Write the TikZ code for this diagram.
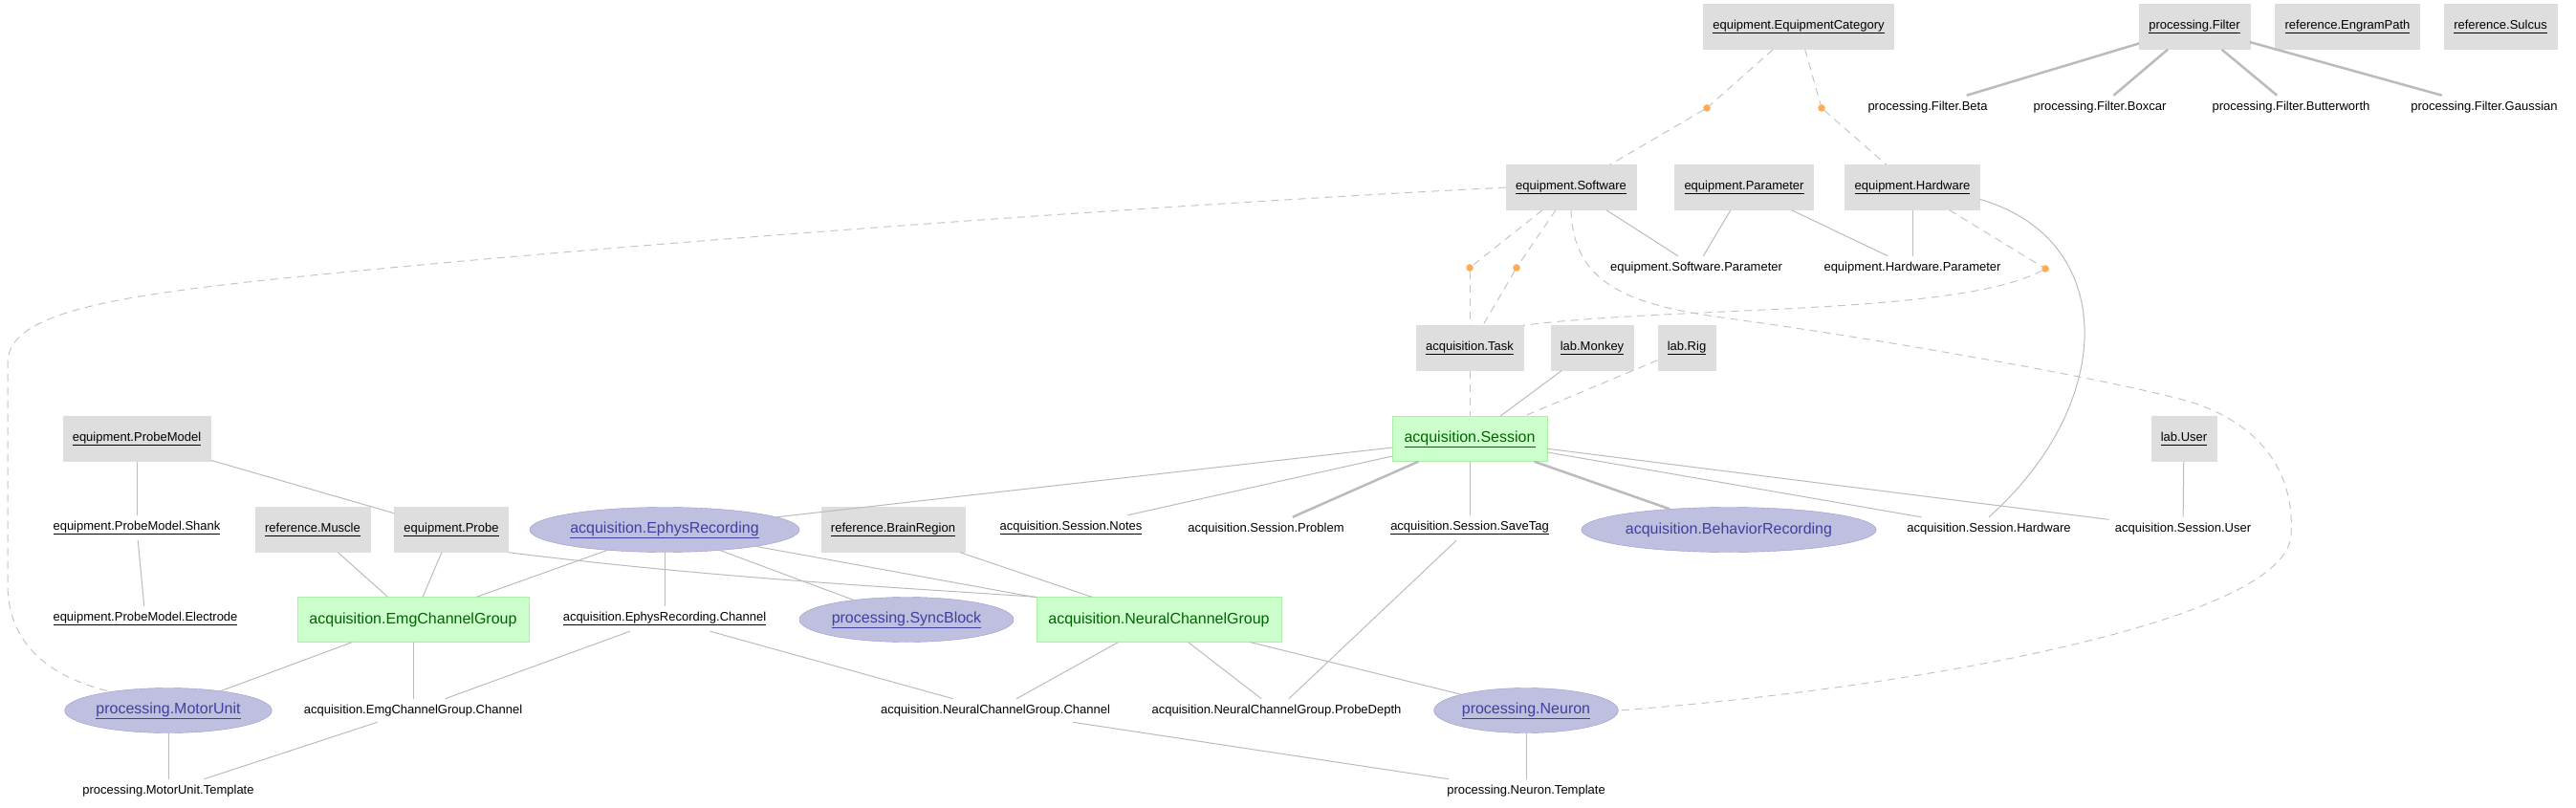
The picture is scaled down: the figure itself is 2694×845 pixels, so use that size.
\documentclass[tikz,border=0pt]{standalone}
\usepackage{fontspec}
\setmainfont{Liberation Sans}
\usetikzlibrary{shapes.geometric}
\definecolor{lkfill}{HTML}{DEDEDE}
\definecolor{mnfill}{HTML}{CCFFCC}
\definecolor{mndraw}{HTML}{A8F0A8}
\definecolor{mntext}{HTML}{006400}
\definecolor{imfill}{HTML}{BFBFDF}
\definecolor{imdraw}{HTML}{9999CC}
\definecolor{imtext}{HTML}{4040A0}
\definecolor{edgegray}{HTML}{BBBBBB}
\definecolor{dashgray}{HTML}{C4C4C4}
\definecolor{dotfill}{HTML}{FFAA55}
\newcommand{\pk}[1]{\underline{#1\vphantom{g}}}
\begin{document}
\begin{tikzpicture}[x=1pt,y=-1pt,
	lookup/.style={draw=lkfill,fill=lkfill,rectangle,minimum height=47pt,inner xsep=10pt,font=\fontsize{13}{15}\selectfont},
	manual/.style={draw=mndraw,fill=mnfill,rectangle,minimum height=47pt,inner xsep=12.5pt,text=mntext,font=\fontsize{16}{19}\selectfont},
	imported/.style={draw=imdraw,fill=imfill,ellipse,minimum height=47pt,inner xsep=1pt,text=imtext,font=\fontsize{16}{19}\selectfont},
	part/.style={inner sep=6pt,font=\fontsize{13}{15}\selectfont},
	joint/.style={circle,draw=dotfill,fill=dotfill,minimum size=7pt,inner sep=0pt},
	fk/.style={draw=edgegray,line width=1pt},
	fkbold/.style={draw=edgegray,line width=2.5pt},
	fkdash/.style={draw=dashgray,line width=1pt,dash pattern=on 8pt off 6pt}]
			\useasboundingbox (0,0) rectangle (2694,845);
			\node[lookup] (EqCat)at(1881,28) {\pk{equipment.EquipmentCategory}};
			\node[lookup] (Filter)at(2295,28) {\pk{processing.Filter}};
			\node[lookup] (EngramPath)at(2455,28) {\pk{reference.EngramPath}};
			\node[lookup] (Sulcus)at(2615,28) {\pk{reference.Sulcus}};
			\node[part] (FBeta)at(2016,112) {processing.Filter.Beta};
			\node[part] (FBoxcar)at(2196,112) {processing.Filter.Boxcar};
			\node[part] (FButter)at(2396,112) {processing.Filter.Butterworth};
			\node[part] (FGauss)at(2598,112) {processing.Filter.Gaussian};
			\node[joint] (d1)at(1785,113) {};
			\node[joint] (d2)at(1905,113) {};
			\node[lookup] (Software)at(1643,196) {\pk{equipment.Software}};
			\node[lookup] (Parameter)at(1824,196) {\pk{equipment.Parameter}};
			\node[lookup] (Hardware)at(2000,196) {\pk{equipment.Hardware}};
			\node[part] (SwParam)at(1774,280) {equipment.Software.Parameter};
			\node[part] (HwParam)at(2000,280) {equipment.Hardware.Parameter};
			\node[joint] (d3)at(2139,281) {};
			\node[joint] (d4)at(1537,280) {};
			\node[joint] (d5)at(1586,280) {};
			\node[lookup] (Task)at(1537,364) {\pk{acquisition.Task}};
			\node[lookup] (Monkey)at(1665,364) {\pk{lab.Monkey}};
			\node[lookup] (Rig)at(1764,364) {\pk{lab.Rig}};
			\node[manual] (Session)at(1537,459) {\pk{acquisition.Session}};
			\node[lookup] (ProbeModel)at(143,459) {\pk{equipment.ProbeModel}};
			\node[lookup] (User)at(2284,459) {\pk{lab.User}};
			\node[part] (Shank)at(143,552) {\pk{equipment.ProbeModel.Shank}};
			\node[lookup] (Muscle)at(327,554) {\pk{reference.Muscle}};
			\node[lookup] (Probe)at(472,554) {\pk{equipment.Probe}};
			\node[imported] (Ephys)at(695,554) {\pk{acquisition.EphysRecording}};
			\node[lookup] (BrainRegion)at(934,554) {\pk{reference.BrainRegion}};
			\node[part] (Notes)at(1120,552) {\pk{acquisition.Session.Notes}};
			\node[part] (Problem)at(1324,553) {acquisition.Session.Problem};
			\node[part] (SaveTag)at(1537,552) {\pk{acquisition.Session.SaveTag}};
			\node[imported] (Behavior)at(1808,554) {acquisition.BehaviorRecording};
			\node[part] (SessHw)at(2080,553) {acquisition.Session.Hardware};
			\node[part] (SessUser)at(2283,553) {acquisition.Session.User};
			\node[part] (Electrode)at(152,647) {\pk{equipment.ProbeModel.Electrode}};
			\node[manual] (EmgCG)at(432,648) {acquisition.EmgChannelGroup};
			\node[part] (EphysChan)at(695,647) {\pk{acquisition.EphysRecording.Channel}};
			\node[imported] (SyncBlock)at(948,648) {\pk{processing.SyncBlock}};
			\node[manual] (NeuralCG)at(1212,648) {acquisition.NeuralChannelGroup};
			\node[imported] (MotorUnit)at(176,743) {\pk{processing.MotorUnit}};
			\node[part] (EmgChan)at(432,743) {acquisition.EmgChannelGroup.Channel};
			\node[part] (NeuralChan)at(1041,743) {acquisition.NeuralChannelGroup.Channel};
			\node[part] (ProbeDepth)at(1335,743) {acquisition.NeuralChannelGroup.ProbeDepth};
			\node[imported] (Neuron)at(1596,743) {\pk{processing.Neuron}};
			\node[part] (MUTemplate)at(176,827) {processing.MotorUnit.Template};
			\node[part] (NeuronTemplate)at(1596,827) {processing.Neuron.Template};
			\draw[fkdash] (EqCat) -- (d1);
			\draw[fkdash] (d1) -- (Software);
			\draw[fkdash] (EqCat) -- (d2);
			\draw[fkdash] (d2) -- (Hardware);
			\draw[fkbold] (Filter) -- (FBeta);
			\draw[fkbold] (Filter) -- (FBoxcar);
			\draw[fkbold] (Filter) -- (FButter);
			\draw[fkbold] (Filter) -- (FGauss);
			\draw[fk] (Software) -- (SwParam);
			\draw[fk] (Parameter) -- (SwParam);
			\draw[fk] (Parameter) -- (HwParam);
			\draw[fk] (Hardware) -- (HwParam);
			\draw[fkdash] (Software) -- (d4);
			\draw[fkdash] (d4) -- (Task);
			\draw[fkdash] (Software) -- (d5);
			\draw[fkdash] (d5) -- (Task);
			\draw[fkdash] (Hardware) -- (d3);
			\draw[fkdash] (d3) .. controls (2050,330) and (1750,320) .. (Task.north east);
			\draw[fkdash] (Task) -- (Session);
			\draw[fkdash] (Rig) -- (Session);
			\draw[fk] (Monkey) -- (Session);
			\draw[fk] (Hardware.-10) .. controls (2215,250) and (2215,420) .. (SessHw.north);
			\draw[fkdash] (Software.south) .. controls (1645,295) and (1700,318) .. (1800,332) .. controls (1950,352) and (2200,395) .. (2290,420) .. controls (2370,445) and (2400,500) .. (2396,560) .. controls (2390,650) and (2000,720) .. (Neuron.east);
			\draw[fkdash] (Software.west) .. controls (1200,215) and (650,255) .. (306,290) .. controls (100,311) and (8,330) .. (8,380) -- (8,610) .. controls (8,680) and (60,710) .. (MotorUnit.162);
			\draw[fk] (ProbeModel) -- (Shank);
			\draw[fk] (Shank) -- (Electrode);
			\draw[fk] (ProbeModel) -- (Probe);
			\draw[fk] (Muscle) -- (EmgCG);
			\draw[fk] (Probe) -- (EmgCG);
			\draw[fk] (Ephys) -- (EmgCG);
			\draw[fk] (Probe.south east) .. controls (750,605) and (950,615) .. (NeuralCG.north west);
			\draw[fk] (Ephys) -- (EphysChan);
			\draw[fk] (EmgCG) -- (MotorUnit);
			\draw[fk] (EmgCG) -- (EmgChan);
			\draw[fk] (EphysChan) -- (EmgChan);
			\draw[fk] (MotorUnit) -- (MUTemplate);
			\draw[fk] (EmgChan) -- (MUTemplate);
			\draw[fk] (Ephys) -- (Session);
			\draw[fk] (Session) -- (Notes);
			\draw[fkbold] (Session) -- (Problem);
			\draw[fk] (Session) -- (SaveTag);
			\draw[fkbold] (Session) -- (Behavior);
			\draw[fk] (Session) -- (SessHw);
			\draw[fk] (Session) -- (SessUser);
			\draw[fk] (User) -- (SessUser);
			\draw[fk] (Ephys) -- (NeuralCG);
			\draw[fk] (Ephys) -- (SyncBlock);
			\draw[fk] (BrainRegion) -- (NeuralCG);
			\draw[fk] (NeuralCG) -- (NeuralChan);
			\draw[fk] (NeuralCG) -- (ProbeDepth);
			\draw[fk] (NeuralCG) -- (Neuron);
			\draw[fk] (SaveTag) -- (ProbeDepth);
			\draw[fk] (EphysChan) -- (NeuralChan);
			\draw[fk] (NeuralChan) -- (NeuronTemplate);
			\draw[fk] (Neuron) -- (NeuronTemplate);
		\end{tikzpicture}
\end{document}
